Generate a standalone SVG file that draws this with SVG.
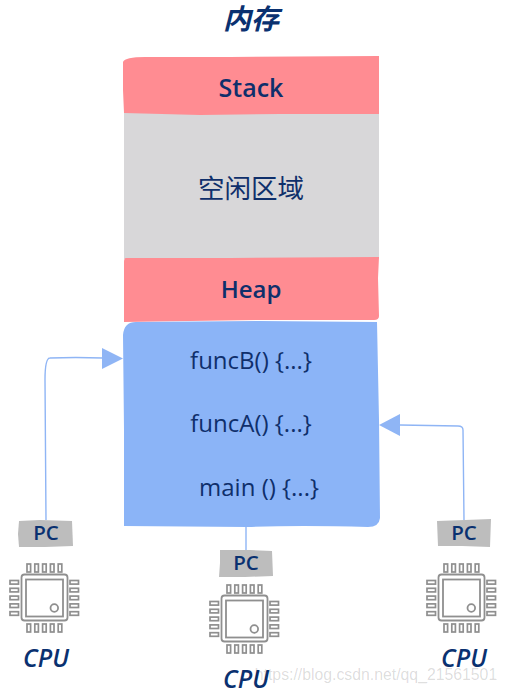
<svg xmlns="http://www.w3.org/2000/svg" width="505" height="691" viewBox="0 0 505 691">
<style>
text{font-family:"Open Sans","Noto Sans","Noto Sans CJK SC",sans-serif;fill:#0f2f6b;text-anchor:middle}
.cjk{font-family:"Noto Sans CJK SC",sans-serif}
.cpu{font-size:24.500px;font-style:italic;font-weight:600;fill:#0a3170}
.pc{font-size:20.500px;font-weight:600;fill:#0a3170}
.fn{font-size:24px;font-weight:400}
.lbl{font-size:25px;font-weight:600}
.pin{fill:#fff;stroke:#8f8f8f;stroke-width:1.7}
.conn{fill:none;stroke:#8fb5f5;stroke-width:1.4}
.tag{fill:#bdbdbd}
.red{fill:#ff8c92}
</style>
<defs>
<g id="chip">
<rect class="pin" x="27" y="564" width="3.6" height="8"/><rect class="pin" x="34.8" y="564" width="3.6" height="8"/><rect class="pin" x="42.6" y="564" width="3.6" height="8"/><rect class="pin" x="50.4" y="564" width="3.6" height="8"/><rect class="pin" x="58.2" y="564" width="3.6" height="8"/>
<rect class="pin" x="27" y="624" width="3.6" height="8"/><rect class="pin" x="34.8" y="624" width="3.6" height="8"/><rect class="pin" x="42.6" y="624" width="3.6" height="8"/><rect class="pin" x="50.4" y="624" width="3.6" height="8"/><rect class="pin" x="58.2" y="624" width="3.6" height="8"/>
<rect class="pin" x="10" y="580.5" width="8.5" height="3.6"/><rect class="pin" x="10" y="588.3" width="8.5" height="3.6"/><rect class="pin" x="10" y="596.1" width="8.5" height="3.6"/><rect class="pin" x="10" y="603.9" width="8.5" height="3.6"/><rect class="pin" x="10" y="611.7" width="8.5" height="3.6"/>
<rect class="pin" x="70" y="580.5" width="8.5" height="3.6"/><rect class="pin" x="70" y="588.3" width="8.5" height="3.6"/><rect class="pin" x="70" y="596.1" width="8.5" height="3.6"/><rect class="pin" x="70" y="603.9" width="8.5" height="3.6"/><rect class="pin" x="70" y="611.7" width="8.5" height="3.6"/>
<rect x="21.500" y="574.500" width="46" height="46" rx="3" fill="#fff" stroke="#8f8f8f" stroke-width="1.8"/>
<rect x="26" y="579.500" width="37" height="37" fill="#fff" stroke="#8f8f8f" stroke-width="1.8"/>
<circle cx="54.300" cy="608" r="3.800" fill="#fff" stroke="#8f8f8f" stroke-width="1.8"/>
</g>
</defs>
<rect width="505" height="691" fill="#fff"/>
<text class="cjk" x="251" y="29" font-size="28" font-weight="700" font-style="italic" style="fill:#0a3170">内存</text>

<g id="free">
<path d="M124 113H379V259H124Z" fill="#d8d7d9"/>
<text class="cjk" x="251" y="198" font-size="26.500" style="font-weight:400">空闲区域</text>
</g>
<g id="stack">
<path class="red" d="M123 62Q125 57 145 57L230 57L379 56L379 114L280 114L200 115L124 113L123 90Z"/>
<text class="lbl" x="251" y="97">Stack</text>
</g>
<g id="heap">
<path class="red" d="M126 258L230 258L379 257L378 278L379 316Q379 320 374 320L260 320L124 322L124 262Q124 258 126 258Z"/>
<text class="lbl" x="251" y="298" style="font-size:24px">Heap</text>
</g>
<g id="code">
<path d="M136 322L260 321L377 322L379 420L380 518Q379 527 368 527Q300 525 247 527L124 526L124 430L123 335Q124 322 136 322Z" fill="#8bb4f7"/>
<text class="fn" x="251" y="369">funcB() {...}</text>
<text class="fn" x="251" y="432">funcA() {...}</text>
<text class="fn" x="259" y="496">main () {...}</text>
</g>

<g id="connectors">
<path class="conn" d="M46 520L45 380Q45 358 50 358Q75 357 103 358"/>
<path d="M102 348L123 358.500L102 369Z" fill="#8fb5f5"/>
<path class="conn" d="M246 527V550"/>
<path class="conn" d="M464 520L463 430Q463 426 458 426L400 425"/>
<path d="M400 414L379 425L400 436Z" fill="#8fb5f5"/>
</g>

<g id="cpu1">
<path class="tag" d="M19 521L40 520L72 521L73 546L45 547L19 547L18 534Z"/>
<text class="pc" x="46" y="540">PC</text>
<use href="#chip"/>
<text class="cpu" x="46" y="667">CPU</text>
</g>
<g id="cpu2">
<path class="tag" d="M220 550L250 550L272 551L273 576L245 577L219 577L220 563Z"/>
<text class="pc" x="246" y="570">PC</text>
<use href="#chip" x="200" y="21"/>
<text class="cpu" x="246" y="688">CPU</text>
</g>
<g id="cpu3">
<path class="tag" d="M437 521L465 520L491 519L490 547L462 546L438 546Z"/>
<text class="pc" x="464" y="540">PC</text>
<use href="#chip" x="417"/>
<text class="cpu" x="464" y="667">CPU</text>
</g>
<text x="376" y="680" font-size="15.800" style="font-family:'Liberation Sans',sans-serif;fill:#000;fill-opacity:.14">https://blog.csdn.net/qq_21561501</text>
</svg>
